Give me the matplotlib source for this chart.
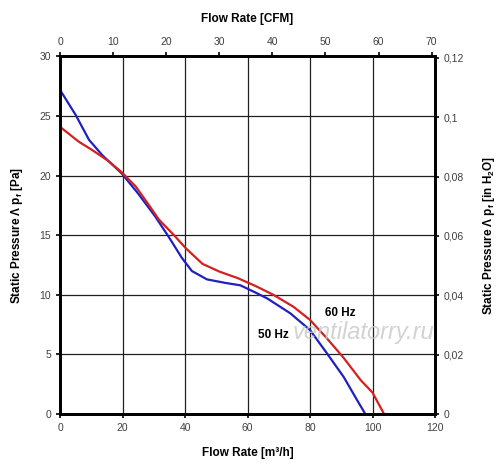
import matplotlib.pyplot as plt
from matplotlib.ticker import FuncFormatter

plt.rcParams['font.family'] = ['Liberation Sans', 'DejaVu Sans']

# 50 Hz curve (blue), flow m3/h vs static pressure Pa
flow_50 = [0, 5, 9.3, 13.6, 19.7, 25, 30.4, 34.7, 39, 42.2, 47, 52.9, 57.7, 62.5,
           66.3, 73.7, 80, 85.4, 90.8, 95.0, 97.7]
pres_50 = [27.2, 25.1, 23.0, 21.7, 20.2, 18.5, 16.6, 14.9, 13.1, 12.0, 11.3, 11.0, 10.8, 10.2,
           9.7, 8.45, 7.05, 5.1, 3.1, 1.2, 0]

# 60 Hz curve (red)
flow_60 = [0, 6, 10.3, 15.1, 19.7, 24.2, 28, 31.7, 36.5, 40.3, 45.6, 51, 56.9, 62.5,
           68.3, 74.7, 80, 85.4, 90.8, 96.2, 100, 103.7]
pres_60 = [24.1, 22.85, 22.15, 21.3, 20.3, 19.1, 17.7, 16.3, 15.0, 13.9, 12.6, 11.95, 11.4, 10.75,
           10.0, 9.0, 7.9, 6.35, 4.7, 2.85, 1.8, 0]

x_ticks = [0, 20, 40, 60, 80, 100, 120]
y_ticks = [0, 5, 10, 15, 20, 25, 30]
cfm_ticks = [0, 10, 20, 30, 40, 50, 60, 70]
inh2o_ticks = [0, 0.02, 0.04, 0.06, 0.08, 0.1, 0.12]

M3H_PER_CFM = 1.699
PA_PER_INH2O = 249.089

fig = plt.figure(figsize=(5, 4.73), dpi=100)
ax = fig.add_axes([0.12, 0.1247, 0.75, 0.7559])

ax.plot(flow_50, pres_50, color='#2020c0', lw=1.6, zorder=3, solid_joinstyle='round')
ax.plot(flow_60, pres_60, color='#d42020', lw=1.6, zorder=3, solid_joinstyle='round')

ax.set_xlim(0, 120)
ax.set_ylim(0, 30)
ax.set_xticks(x_ticks)
ax.set_yticks(y_ticks)
ax.grid(True, color='#202020', lw=0.9)
ax.set_axisbelow(True)

tick_kw = dict(labelsize=7.5, labelcolor='#404040', direction='out', length=3, width=1.2)
ax.tick_params(**tick_kw)
for s in ax.spines.values():
    s.set_linewidth(1.8)

ax.set_xlabel('Flow Rate [m³/h]', fontsize=8.5, fontweight='bold', labelpad=10)
ax.set_ylabel(r'Static Pressure Λ p$_\mathregular{f}$ [Pa]', fontsize=8.5,
              fontweight='bold', labelpad=10)

# top axis in CFM
top = ax.twiny()
top.set_xlim(0, 120 / M3H_PER_CFM)
top.set_xticks(cfm_ticks)
top.tick_params(**tick_kw)
top.set_xlabel('Flow Rate [CFM]', fontsize=8.5, fontweight='bold', labelpad=11)

# right axis in inch of water
right = ax.twinx()
right.set_ylim(0, 30 / PA_PER_INH2O)
right.set_yticks(inh2o_ticks)
right.yaxis.set_major_formatter(FuncFormatter(lambda v, p: ('%g' % round(v, 3)).replace('.', ',')))
right.tick_params(**tick_kw)
right.set_ylabel(r'Static Pressure Λ p$_\mathregular{f}$ [in H$_\mathregular{2}$O]', fontsize=8.5,
                 fontweight='bold', labelpad=12)
for a in (top, right):
    for s in a.spines.values():
        s.set_linewidth(1.8)

ax.text(89.6, 8.5, '60 Hz', fontsize=8.5, fontweight='bold', ha='center', va='center', zorder=4)
ax.text(68.2, 6.6, '50 Hz', fontsize=8.5, fontweight='bold', ha='center', va='center', zorder=4)
ax.text(97, 6.8, 'ventilatorry.ru', fontsize=17, style='italic', color='#c8c8c8',
        alpha=0.8, ha='center', va='center', zorder=5)

plt.savefig('out.png', dpi=100)
